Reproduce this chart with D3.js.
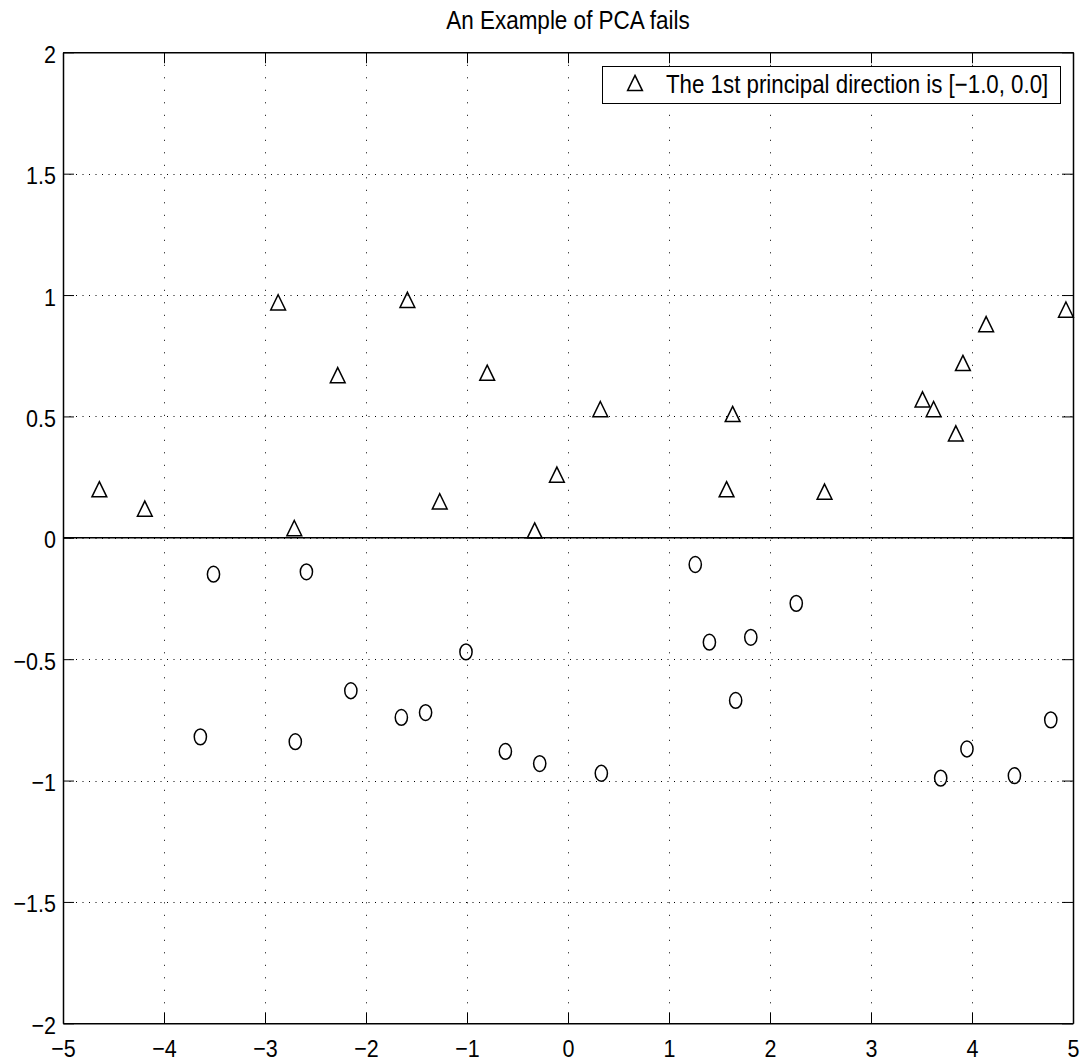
<!DOCTYPE html>
<html>
<head>
<meta charset="utf-8">
<script src="https://cdn.jsdelivr.net/npm/d3@7"></script>
<style>
  body { margin: 0; background: #fff; }
  svg { display: block; font-family: "Liberation Sans", Arial, Helvetica, sans-serif; }
</style>
</head>
<body>
<div id="container"></div>
<script>
// points above the line (triangles) and below it (circles)
const triX = [-4.64, -4.19, -2.87, -2.71, -2.28, -1.59, -1.27, -0.80, -0.33, -0.11,
              0.32, 1.57, 1.63, 2.54, 3.51, 3.62, 3.84, 3.91, 4.14, 4.93];
const triY = [0.20, 0.12, 0.97, 0.04, 0.67, 0.98, 0.15, 0.68, 0.03, 0.26,
              0.53, 0.20, 0.51, 0.19, 0.57, 0.53, 0.43, 0.72, 0.88, 0.94];
const circX = [-3.51, -2.59, -2.15, -1.01, -3.64, -2.70, -1.65, -1.41, -0.62, -0.28,
               0.33, 1.26, 1.40, 1.81, 2.26, 1.66, 3.69, 3.95, 4.42, 4.78];
const circY = [-0.15, -0.14, -0.63, -0.47, -0.82, -0.84, -0.74, -0.72, -0.88, -0.93,
               -0.97, -0.11, -0.43, -0.41, -0.27, -0.67, -0.99, -0.87, -0.98, -0.75];

// the principal direction line
const lineX = [-5, 5];
const lineY = [0, 0];

const xTicks = [-5, -4, -3, -2, -1, 0, 1, 2, 3, 4, 5];
const xTickLabels = ["\u22125", "\u22124", "\u22123", "\u22122", "\u22121", "0", "1", "2", "3", "4", "5"];
const yTicks = [-2, -1.5, -1, -0.5, 0, 0.5, 1, 1.5, 2];
const yTickLabels = ["\u22122", "\u22121.5", "\u22121", "\u22120.5", "0", "0.5", "1", "1.5", "2"];

const titleText = "An Example of PCA fails";
const legendText = "The 1st principal direction is [\u22121.0, 0.0]";

const W = 1083, H = 1064;
const padL = 63, padR = 1073, padT = 52.3, padB = 1023.3;
const tickLen = 11;
const stretch = 1.14; // text in the picture is a bit taller than wide

const svg = d3.select("#container").append("svg")
  .attr("width", W)
  .attr("height", H);

// SCALES
const x = d3.scaleLinear().domain([-5, 5]).range([padL, padR]);
const y = d3.scaleLinear().domain([-2, 2]).range([padB, padT]);

// GRID (dotted)
const grid = svg.append("g").attr("stroke", "#000").attr("stroke-width", 1);
grid.selectAll("line.gx")
  .data(xTicks.slice(1, -1))
  .join("line")
  .attr("class", "gx")
  .attr("x1", d => Math.round(x(d)) + 0.5)
  .attr("x2", d => Math.round(x(d)) + 0.5)
  .attr("y1", padT)
  .attr("y2", padB)
  .attr("stroke-dasharray", "1,11.5");
grid.selectAll("line.gy")
  .data(yTicks.slice(1, -1))
  .join("line")
  .attr("class", "gy")
  .attr("x1", padL)
  .attr("x2", padR)
  .attr("y1", d => Math.round(y(d)) + 0.5)
  .attr("y2", d => Math.round(y(d)) + 0.5)
  .attr("stroke-dasharray", "1,5.5");

// AXES (ticks inside, on all four sides)
function styleAxis(g) {
  g.attr("font-size", null).attr("font-family", null);
  g.select(".domain").attr("stroke-width", 1.5);
  g.selectAll(".tick line").attr("stroke-width", 1);
}

const xBottom = svg.append("g")
  .attr("transform", `translate(0,${padB})`)
  .call(d3.axisBottom(x).tickValues(xTicks).tickSizeInner(-tickLen).tickSizeOuter(0)
    .tickFormat((d, i) => xTickLabels[i]))
  .call(styleAxis);
xBottom.selectAll(".tick text")
  .attr("y", 0).attr("dy", null)
  .attr("font-size", 21.5)
  .attr("text-anchor", "middle")
  .attr("transform", `translate(0,34) scale(1,${stretch})`);

svg.append("g")
  .attr("transform", `translate(0,${padT})`)
  .call(d3.axisTop(x).tickValues(xTicks).tickSizeInner(-tickLen).tickSizeOuter(0).tickFormat(""))
  .call(styleAxis);

const yLeft = svg.append("g")
  .attr("transform", `translate(${padL},0)`)
  .call(d3.axisLeft(y).tickValues(yTicks).tickSizeInner(-tickLen).tickSizeOuter(0)
    .tickFormat((d, i) => yTickLabels[i]))
  .call(styleAxis);
yLeft.selectAll(".tick text")
  .attr("x", 0).attr("dy", null)
  .attr("font-size", 21.5)
  .attr("text-anchor", "end")
  .attr("transform", `translate(-7,10) scale(1,${stretch})`);

svg.append("g")
  .attr("transform", `translate(${padR},0)`)
  .call(d3.axisRight(y).tickValues(yTicks).tickSizeInner(-tickLen).tickSizeOuter(0).tickFormat(""))
  .call(styleAxis);

// THE LINE
svg.append("path")
  .datum(lineX.map((v, i) => [v, lineY[i]]))
  .attr("d", d3.line().x(d => x(d[0])).y(d => y(d[1])))
  .attr("fill", "none")
  .attr("stroke", "#000")
  .attr("stroke-width", 1.5);

// MARKERS
const triPath = "M0,-7.6L7.4,7.6L-7.4,7.6Z";

svg.append("g")
  .selectAll("path")
  .data(triX.map((v, i) => [v, triY[i]]))
  .join("path")
  .attr("d", triPath)
  .attr("transform", d => `translate(${x(d[0])},${y(d[1])})`)
  .attr("fill", "none")
  .attr("stroke", "#000")
  .attr("stroke-width", 1.5);

svg.append("g")
  .selectAll("ellipse")
  .data(circX.map((v, i) => [v, circY[i]]))
  .join("ellipse")
  .attr("cx", d => x(d[0]))
  .attr("cy", d => y(d[1]))
  .attr("rx", 6.1)
  .attr("ry", 7.9)
  .attr("fill", "none")
  .attr("stroke", "#000")
  .attr("stroke-width", 1.5);

// TITLE
svg.append("text")
  .attr("transform", `translate(${(padL + padR) / 2},29.3) scale(1,${stretch})`)
  .attr("text-anchor", "middle")
  .attr("font-size", 22.5)
  .text(titleText);

// LEGEND
const legend = svg.append("g");
legend.append("rect")
  .attr("x", 602.5).attr("y", 66.5)
  .attr("width", 458).attr("height", 37)
  .attr("fill", "#fff")
  .attr("stroke", "#000")
  .attr("stroke-width", 1);
legend.append("path")
  .attr("d", triPath)
  .attr("transform", "translate(635,83)")
  .attr("fill", "none")
  .attr("stroke", "#000")
  .attr("stroke-width", 1.5);
legend.append("text")
  .attr("transform", `translate(666,93) scale(1,${stretch})`)
  .attr("font-size", 22.3)
  .text(legendText);
</script>
</body>
</html>
